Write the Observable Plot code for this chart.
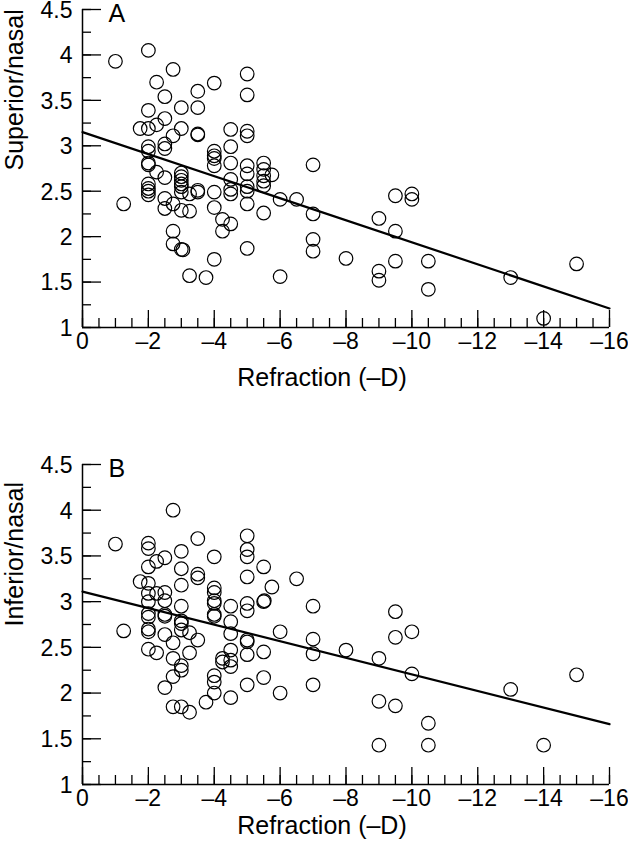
<!DOCTYPE html>
<html><head><meta charset="utf-8">
<script src="https://cdn.jsdelivr.net/npm/d3@7"></script>
<script src="https://cdn.jsdelivr.net/npm/@observablehq/plot@0.6"></script>
<style>body{margin:0;background:#fff} #chart{width:628px} svg{display:block}</style>
</head><body><div id="chart"></div>
<script>
// ---- data ----
const refractionA = [-1,-2,-2.75,-2.25,-2.5,-2,-2.5,-2.25,-1.75,-2,-3,-2.75,-3,-3.5,-3.5,-3.5,-3.5,-4,-2.5,-2.5,-2,-2,-2,-2,-2.25,-3,-3,-3,-4,-4,-4,-4,-4.5,-4.5,-4.5,-5,-5,-5,-5,-5,-5.5,-5.5,-5.5,-4.5,-5,-2,-2,-2,-2,-1.25,-2.5,-2.5,-2.5,-2.75,-3,-3,-3,-3.25,-3,-3.25,-3.5,-3.5,-2.75,-2.75,-3,-3.05,-3.25,-3.75,-4,-4,-4,-4.25,-4.25,-4.5,-4.5,-4.5,-5,-5,-5,-5,-5.5,-5.5,-5.5,-5.75,-6,-6.5,-7,-7,-7,-6,-8,-9,-9,-9,-9.5,-9.5,-9.5,-10,-10,-10.5,-10.5,-7,-13,-15,-14];
const superiorNasal = [3.93,4.05,3.84,3.70,3.54,3.39,3.30,3.23,3.19,3.19,3.42,3.11,3.19,3.60,3.42,3.13,3.12,3.69,3.02,2.97,2.99,2.94,2.81,2.79,2.71,2.70,2.66,2.62,2.94,2.89,2.86,2.78,3.18,2.99,2.81,3.79,3.56,3.16,3.11,2.78,2.81,2.74,2.67,2.63,2.69,2.58,2.53,2.50,2.46,2.36,2.65,2.42,2.31,2.36,2.58,2.55,2.49,2.47,2.29,2.28,2.51,2.49,2.06,1.92,1.86,1.855,1.57,1.55,2.49,2.32,1.75,2.19,2.06,2.14,2.52,2.47,2.55,2.50,2.36,1.87,2.61,2.56,2.26,2.68,2.41,2.41,2.25,1.97,1.84,1.56,1.76,2.20,1.62,1.52,2.45,2.06,1.73,2.47,2.41,1.73,1.42,2.79,1.55,1.70,1.10];

const refractionB = [-1,-1.25,-1.75,-2,-2,-2,-2,-2,-2,-2,-2,-2,-2,-2,-2.25,-2.25,-2.25,-2.5,-2.5,-2.5,-2.5,-2.5,-2.5,-2.5,-2.75,-2.75,-2.75,-2.75,-2.75,-3,-3,-3,-3,-3,-3,-3,-3,-3,-3,-3.25,-3.25,-3.25,-3.5,-3.5,-3.5,-3.5,-3.75,-4,-4,-4,-4,-4,-4,-4,-4,-4,-4,-4.25,-4.25,-4.5,-4.5,-4.5,-4.5,-4.5,-4.5,-4.5,-5,-5,-5,-5,-5,-5,-5,-5,-5,-5,-5.5,-5.5,-5.52,-5.5,-5.5,-5.75,-6,-6,-6.5,-7,-7,-7,-7,-8,-9,-9,-9,-9.5,-9.5,-9.5,-10,-10,-10.5,-10.5,-13,-14,-15];
const inferiorNasal = [3.63,2.68,3.22,3.64,3.58,3.38,3.20,3.09,3.00,2.87,2.83,2.70,2.67,2.48,3.44,3.09,2.44,3.48,3.10,3.01,2.86,2.84,2.64,2.06,4.00,2.55,2.38,2.18,1.85,3.55,3.36,3.18,2.95,2.79,2.76,2.69,2.30,2.25,1.85,2.66,2.44,1.79,3.69,3.30,3.26,2.58,1.90,3.49,3.15,3.10,3.01,2.98,2.86,2.84,2.19,2.12,2.00,2.38,2.34,2.95,2.78,2.65,2.47,2.36,2.29,1.95,3.72,3.57,3.49,3.27,2.98,2.90,2.58,2.56,2.42,2.09,3.38,3.00,3.01,2.45,2.17,3.16,2.67,2.00,3.25,2.95,2.59,2.43,2.09,2.47,2.38,1.91,1.43,2.89,2.61,1.86,2.67,2.21,1.67,1.43,2.04,1.43,2.20];

// regression lines: value at refraction 0 and -16
const fitRefraction = [0, -16];
const fitSuperior = [3.15, 1.21];
const fitInferior = [3.11, 1.66];

const xTickValues = [0, -2, -4, -6, -8, -10, -12, -14, -16];
const xMinorValues = d3.range(0, -16.001, -0.5);
const yTickValues = [1, 1.5, 2, 2.5, 3, 3.5, 4, 4.5];
const yMinorValues = d3.range(1, 4.501, 0.25);

const FONT = '"Liberation Sans", Arial, Helvetica, sans-serif';
const TICK_FONT = 23, TITLE_FONT = 25;

function panel({xs, ys, fitY, letter, yTitle, xTitle, height, marginTop, marginBottom, xTitleOffset}) {
  const width = 628, marginLeft = 82, marginRight = 19;
  const fw = width - marginLeft - marginRight;
  const fh = height - marginTop - marginBottom;
  const pts = xs.map((x, i) => ({x, y: ys[i]}));
  const fit = fitRefraction.map((x, i) => ({x, y: fitY[i]}));
  return Plot.plot({
    width, height, marginTop, marginBottom, marginLeft, marginRight,
    style: {fontFamily: FONT, fontSize: TICK_FONT + "px", color: "black", background: "white", overflow: "visible"},
    x: {domain: [0, -16]},
    y: {domain: [1, 4.5]},
    marks: [
      Plot.tickX(xMinorValues, {x: d => d, insetTop: fh - 9, strokeWidth: 1.3}),
      Plot.tickX(xTickValues, {x: d => d, insetTop: fh - 17, strokeWidth: 1.3}),
      Plot.tickY(yMinorValues, {y: d => d, insetRight: fw - 9, strokeWidth: 1.3}),
      Plot.tickY(yTickValues, {y: d => d, insetRight: fw - 19, strokeWidth: 1.3}),
      Plot.ruleY([1], {strokeWidth: 1.5}),
      Plot.ruleX([0], {strokeWidth: 1.5}),
      Plot.axisX(xTickValues, {tickSize: 0, tickPadding: 5, tickFormat: d => d === 0 ? "0" : "\u2013" + (-d), fontSize: TICK_FONT, label: null}),
      Plot.axisY(yTickValues, {tickSize: 0, tickPadding: 10, tickFormat: d => String(d), fontSize: TICK_FONT, label: null, dy: 1}),
      Plot.line(fit, {x: "x", y: "y", stroke: "black", strokeWidth: 2.2}),
      Plot.dot(pts, {x: "x", y: "y", r: 6.8, stroke: "black", fill: "none", strokeWidth: 1.2}),
      Plot.text([letter], {frameAnchor: "top-left", dx: 26, dy: -5, textAnchor: "start", lineAnchor: "top", fontSize: TITLE_FONT}),
      Plot.text([yTitle], {frameAnchor: "left", dx: -68, dy: 2, rotate: -90, fontSize: TITLE_FONT}),
      Plot.text([xTitle], {frameAnchor: "bottom", dx: -24, dy: xTitleOffset, fontSize: TITLE_FONT})
    ]
  });
}

const chart = document.getElementById("chart");
chart.appendChild(panel({xs: refractionA, ys: superiorNasal, fitY: fitSuperior, letter: "A", yTitle: "Superior/nasal", xTitle: "Refraction (\u2013D)", height: 420, marginTop: 9, marginBottom: 93, xTitleOffset: 58}));
chart.appendChild(panel({xs: refractionB, ys: inferiorNasal, fitY: fitInferior, letter: "B", yTitle: "Inferior/nasal", xTitle: "Refraction (\u2013D)", height: 432, marginTop: 44, marginBottom: 68, xTitleOffset: 49}));
</script>
</body></html>
